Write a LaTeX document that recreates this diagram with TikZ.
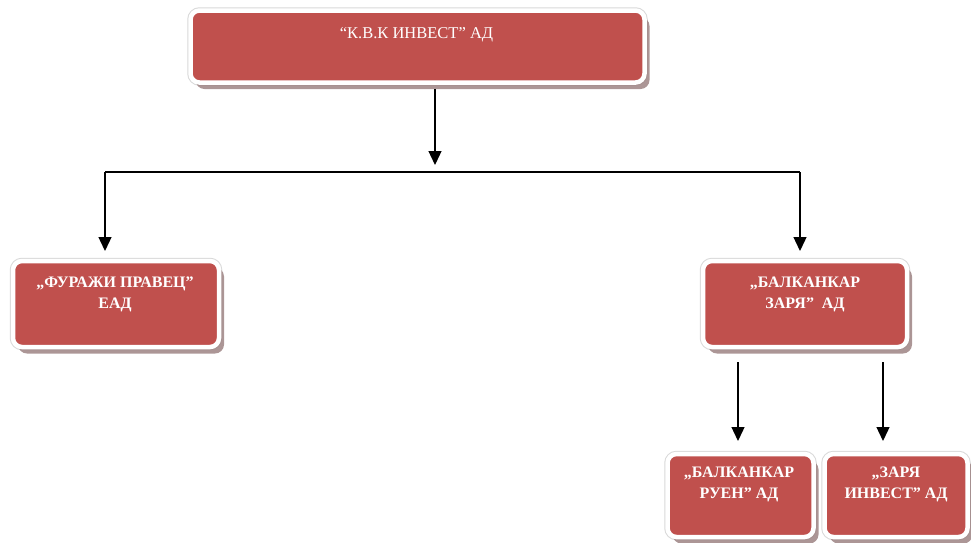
\documentclass[tikz,border=0pt]{standalone}
\usepackage{fontspec}
\setmainfont{Liberation Serif}
\usetikzlibrary{arrows.meta,shadows,calc}
\definecolor{boxred}{HTML}{C0504D}
\definecolor{shadowc}{HTML}{9E8484}
\tikzset{
  orgbox/.style={rectangle, rounded corners=9pt, fill=boxred, draw=white, line width=4.5pt,
    preaction={draw=black!15, line width=6.5pt},
    drop shadow={shadow xshift=5pt, shadow yshift=-6.5pt, fill=shadowc, opacity=0.85},
    inner sep=0pt},
  boxtext/.style={text=white, font=\fontsize{16}{21}\selectfont\bfseries, align=center, anchor=north, inner sep=0pt},
  arr/.style={line width=1.3pt, -{Triangle[width=13pt,length=14pt]}},
  ln/.style={line width=1.3pt}
}
\begin{document}
\begin{tikzpicture}[x=1pt,y=-1pt]
\useasboundingbox (0,0) rectangle (971,542);
% boxes
\node[orgbox, minimum width=454pt, minimum height=72pt] (top) at (417.5,46.5) {};
\node[orgbox, minimum width=206pt, minimum height=86pt] (left) at (116,304) {};
\node[orgbox, minimum width=204pt, minimum height=86pt] (mid) at (805,304) {};
\node[orgbox, minimum width=146pt, minimum height=83pt] (bl) at (740.5,495.5) {};
\node[orgbox, minimum width=143pt, minimum height=83pt] (br) at (896,495.5) {};
% texts
\node[boxtext, font=\fontsize{16.5}{19}\selectfont] (ttop) at (416.5,27) {“К.В.К ИНВЕСТ” АД};
\node[boxtext] (tleft) at (115,277) {„ФУРАЖИ ПРАВЕЦ”\\ЕАД};
\node[boxtext] (tmid) at (805,277) {„БАЛКАНКАР\\ЗАРЯ”\ \ АД};
\node[boxtext] (tbl) at (739,467) {„БАЛКАНКАР\\РУЕН” АД};
\node[boxtext] (tbr) at (896,467) {„ЗАРЯ\\ИНВЕСТ” АД};
% connectors
\coordinate (j) at (435,165);
\coordinate (hl) at (105,172);
\coordinate (hr) at (800,172);
\coordinate (el) at (105,251);
\coordinate (er) at (800,251);
\coordinate (s1) at (738,362);
\coordinate (s2) at (883,362);
\coordinate (e1) at (738,441);
\coordinate (e2) at (883,441);
\draw[arr] (top.south -| j) ++(0,4) -- (j);
\draw[ln] (hl) -- (hr);
\draw[arr] (hl) -- (el);
\draw[arr] (hr) -- (er);
\draw[arr] (s1) -- (e1);
\draw[arr] (s2) -- (e2);
\end{tikzpicture}
\end{document}
